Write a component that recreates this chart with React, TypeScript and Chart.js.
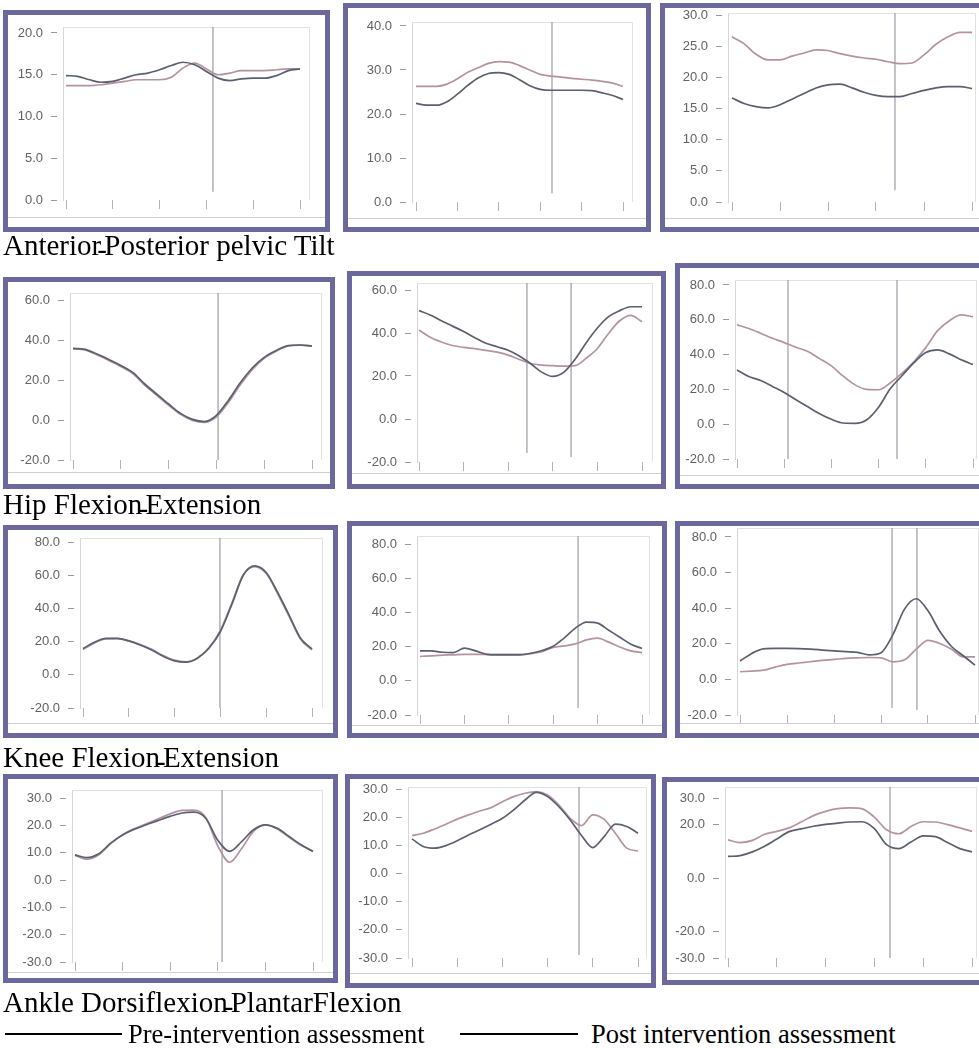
import React, { useEffect, useRef } from "react";
import { Chart, registerables } from "chart.js";

Chart.register(...registerables);

// ---------- data (% gait cycle on x, degrees on y) ----------
const GAIT_PCT = [0, 5, 10, 15, 20, 25, 30, 35, 40, 45, 50, 55, 60, 65, 70, 75, 80, 85, 90, 95, 100];
const X_TICKS = [0, 20, 40, 60, 80, 100];

// Anterior-Posterior pelvic tilt
const PELVIS_1_Y_TICKS = [0, 5, 10, 15, 20];
const PELVIS_1_PRE = [14.9, 14.8, 14.4, 14.1, 14.2, 14.6, 15.0, 15.2, 15.6, 16.1, 16.5, 16.2, 15.4, 14.6, 14.3, 14.5, 14.6, 14.6, 14.9, 15.5, 15.7];
const PELVIS_1_POST = [13.7, 13.7, 13.7, 13.8, 14.0, 14.2, 14.4, 14.4, 14.4, 14.7, 15.8, 16.4, 15.7, 15.0, 15.2, 15.5, 15.5, 15.5, 15.6, 15.7, 15.7];
const PELVIS_1_EVENTS = [{ x: 62.8, from: 1.0 }];

const PELVIS_2_Y_TICKS = [0, 10, 20, 30, 40];
const PELVIS_2_PRE = [22.4, 22.0, 22.0, 22.8, 24.5, 26.5, 28.2, 29.2, 29.4, 29.0, 27.8, 26.4, 25.6, 25.4, 25.4, 25.4, 25.4, 25.3, 24.8, 24.2, 23.3];
const PELVIS_2_POST = [26.3, 26.3, 26.3, 26.8, 28.0, 29.5, 30.5, 31.5, 31.9, 31.8, 31.0, 30.0, 29.0, 28.6, 28.4, 28.1, 27.9, 27.7, 27.4, 27.0, 26.3];
const PELVIS_2_EVENTS = [{ x: 65.7, from: 2.0 }];

const PELVIS_3_Y_TICKS = [0, 5, 10, 15, 20, 25, 30];
const PELVIS_3_PRE = [16.7, 15.8, 15.3, 15.1, 15.6, 16.5, 17.4, 18.3, 18.8, 18.9, 18.3, 17.6, 17.1, 16.9, 16.9, 17.4, 17.9, 18.3, 18.5, 18.5, 18.2];
const PELVIS_3_POST = [26.5, 25.4, 23.7, 22.8, 22.8, 23.4, 23.9, 24.4, 24.3, 23.8, 23.4, 23.1, 22.9, 22.5, 22.2, 22.3, 23.6, 25.3, 26.5, 27.2, 27.2];
const PELVIS_3_EVENTS = [{ x: 67.9, from: 1.9 }];

// Hip flexion-extension
const HIP_1_Y_TICKS = [-20, 0, 20, 40, 60];
const HIP_1_PRE = [35.8, 35.3, 33.0, 30.3, 27.3, 23.8, 18.0, 13.0, 8.0, 3.3, 0.3, -0.8, 2.3, 9.8, 18.6, 26.0, 31.3, 34.7, 37.2, 37.5, 37.0];
const HIP_1_POST = [35.5, 35.0, 32.6, 29.8, 26.8, 23.2, 17.4, 12.4, 7.4, 2.8, -0.2, -1.2, 1.6, 8.8, 17.6, 25.2, 30.8, 34.4, 37.0, 37.4, 37.0];
const HIP_1_EVENTS = [{ x: 60.7, from: -20 }];

const HIP_2_Y_TICKS = [-20, 0, 20, 40, 60];
const HIP_2_PRE = [50.4, 48.4, 45.7, 43.2, 40.7, 37.8, 35.2, 33.6, 32.0, 29.3, 25.8, 21.8, 19.8, 21.8, 27.8, 35.5, 42.3, 47.6, 50.4, 52.2, 52.2];
const HIP_2_POST = [41.4, 38.0, 35.8, 34.2, 33.3, 32.7, 31.9, 31.1, 29.7, 27.7, 25.8, 25.1, 24.8, 24.6, 24.8, 28.3, 32.8, 39.8, 45.7, 48.2, 45.2];
const HIP_2_EVENTS = [{ x: 48.4, from: -15.8 }, { x: 68.2, from: -17.7 }];

const HIP_3_Y_TICKS = [-20, 0, 20, 40, 60, 80];
const HIP_3_PRE = [31.2, 27.4, 25.1, 21.7, 18.2, 14.0, 10.0, 6.0, 2.8, 0.7, 0.5, 2.6, 9.8, 20.5, 28.0, 35.4, 41.2, 42.7, 40.4, 37.0, 34.3];
const HIP_3_POST = [57.1, 55.0, 52.3, 49.4, 46.9, 44.2, 41.8, 37.7, 33.5, 27.6, 22.6, 20.0, 19.8, 23.8, 29.3, 36.0, 44.0, 53.8, 59.5, 62.8, 61.8];
const HIP_3_EVENTS = [{ x: 21.6, from: -20 }, { x: 67.8, from: -20 }];

// Knee flexion-extension
const KNEE_Y_TICKS = [-20, 0, 20, 40, 60, 80];
const KNEE_1_PRE = [15.8, 19.6, 22.0, 22.0, 20.4, 18.0, 15.0, 11.2, 8.4, 7.6, 10.0, 16.0, 26.0, 42.4, 60.0, 65.6, 61.6, 49.6, 36.0, 22.0, 15.6];
const KNEE_1_POST = [15.2, 19.2, 21.6, 21.8, 20.4, 18.2, 15.4, 11.6, 8.8, 7.8, 10.2, 16.4, 26.8, 43.2, 60.4, 65.2, 61.0, 48.8, 35.2, 21.4, 15.0];
const KNEE_1_EVENTS = [{ x: 59.8, from: -20 }];

const KNEE_2_PRE = [17.5, 17.5, 16.7, 16.5, 19.1, 17.5, 15.5, 15.2, 15.2, 15.2, 16.1, 17.7, 20.2, 25.1, 30.8, 34.3, 33.7, 29.6, 25.5, 21.4, 18.9];
const KNEE_2_POST = [14.2, 14.6, 15.0, 15.2, 15.5, 15.5, 15.5, 15.5, 15.5, 15.4, 15.9, 17.1, 19.5, 20.4, 21.6, 23.9, 24.9, 22.6, 19.8, 17.5, 16.5];
const KNEE_2_EVENTS = [{ x: 71.2, from: -15.9 }];

const KNEE_3_PRE = [10.3, 14.6, 17.2, 17.4, 17.4, 17.3, 17.0, 16.5, 16.0, 15.6, 15.2, 13.8, 15.0, 25.0, 39.5, 45.3, 38.5, 27.0, 18.5, 13.3, 8.0];
const KNEE_3_POST = [4.3, 4.7, 5.2, 6.9, 8.4, 9.2, 9.9, 10.7, 11.2, 11.8, 12.1, 12.3, 12.1, 9.9, 11.0, 17.0, 21.9, 20.2, 17.0, 12.7, 12.7];
const KNEE_3_EVENTS = [{ x: 64.7, from: -16.1 }, { x: 75.3, from: -17.2 }];

// Ankle dorsiflexion-plantarflexion
const ANKLE_Y_TICKS = [-30, -20, -10, 0, 10, 20, 30];
const ANKLE_3_Y_TICKS = [-30, -20, 0, 20, 30];
const ANKLE_1_PRE = [9.2, 8.2, 9.6, 13.5, 16.5, 18.6, 20.2, 21.8, 23.3, 24.5, 24.8, 22.5, 14.5, 10.5, 14.0, 18.4, 20.2, 18.9, 15.9, 12.9, 10.4];
const ANKLE_1_POST = [9.0, 7.6, 9.2, 13.3, 16.6, 18.8, 20.6, 22.4, 24.2, 25.5, 25.6, 22.8, 12.5, 6.5, 11.5, 17.8, 20.2, 18.7, 15.6, 12.7, 10.5];
const ANKLE_1_EVENTS = [{ x: 61.8, from: -30 }];

const ANKLE_2_PRE = [12.3, 9.6, 9.0, 9.9, 11.6, 13.7, 15.5, 17.5, 19.6, 22.6, 26.1, 28.8, 27.3, 23.7, 19.0, 13.5, 9.2, 13.1, 17.5, 16.7, 14.3];
const ANKLE_2_POST = [13.5, 14.3, 15.8, 17.5, 19.3, 20.8, 22.2, 23.4, 25.5, 27.3, 28.5, 29.1, 27.9, 24.3, 19.6, 17.0, 20.8, 19.2, 14.3, 9.0, 8.0];
const ANKLE_2_EVENTS = [{ x: 73.9, from: -28.9 }];

const ANKLE_3_PRE = [8.1, 8.4, 9.8, 11.9, 14.6, 17.4, 18.4, 19.4, 20.1, 20.6, 21.0, 21.1, 18.5, 12.5, 11.0, 13.5, 15.8, 15.5, 13.3, 11.0, 9.8];
const ANKLE_3_POST = [14.3, 13.3, 14.1, 16.4, 17.5, 18.8, 21.0, 23.4, 25.0, 26.0, 26.3, 25.9, 22.8, 18.1, 16.6, 19.3, 21.1, 21.0, 20.0, 18.8, 17.5];
const ANKLE_3_EVENTS = [{ x: 66.4, from: -30 }];

// ---------- styling ----------
const PRE_COLOR = "#5c5f70";
const POST_COLOR = "#b4939f";
const EVENT_COLOR = "#a2a2ac";
const FRAME_COLOR = "#6a689c";
const BORDER = 5;
const Y_AXIS_W = 54;

type EventLine = { x: number; from: number };
type PanelSpec = {
  frame: number[];
  plot: { left: number; x0: number; x100: number; right: number; top: number };
  yTop: number[];
  yBottom: number[];
  bottomLine: number;
  yTicks: number[];
  pre: number[];
  post: number[];
  events: EventLine[];
};

const PANELS: PanelSpec[] = [
  { frame: [3, 10, 330, 232], plot: { left: 63, x0: 66, x100: 300, right: 310, top: 27 }, yTop: [20, 33], yBottom: [0, 200], bottomLine: 217, yTicks: PELVIS_1_Y_TICKS, pre: PELVIS_1_PRE, post: PELVIS_1_POST, events: PELVIS_1_EVENTS },
  { frame: [343, 3, 651, 232], plot: { left: 412, x0: 416, x100: 623, right: 633, top: 22 }, yTop: [40, 26], yBottom: [0, 202], bottomLine: 218, yTicks: PELVIS_2_Y_TICKS, pre: PELVIS_2_PRE, post: PELVIS_2_POST, events: PELVIS_2_EVENTS },
  { frame: [660, 3, 990, 232], plot: { left: 728, x0: 732, x100: 972, right: 976, top: 13 }, yTop: [30, 15], yBottom: [0, 202], bottomLine: 218, yTicks: PELVIS_3_Y_TICKS, pre: PELVIS_3_PRE, post: PELVIS_3_POST, events: PELVIS_3_EVENTS },

  { frame: [3, 277, 335, 489], plot: { left: 70, x0: 73, x100: 312, right: 322, top: 293 }, yTop: [60, 300], yBottom: [-20, 460], bottomLine: 472, yTicks: HIP_1_Y_TICKS, pre: HIP_1_PRE, post: HIP_1_POST, events: HIP_1_EVENTS },
  { frame: [347, 271, 666, 489], plot: { left: 417, x0: 419, x100: 642, right: 653, top: 283 }, yTop: [60, 290], yBottom: [-20, 462], bottomLine: 473, yTicks: HIP_2_Y_TICKS, pre: HIP_2_PRE, post: HIP_2_POST, events: HIP_2_EVENTS },
  { frame: [675, 263, 990, 489], plot: { left: 735, x0: 737, x100: 973, right: 977, top: 280 }, yTop: [80, 285], yBottom: [-20, 459], bottomLine: 475, yTicks: HIP_3_Y_TICKS, pre: HIP_3_PRE, post: HIP_3_POST, events: HIP_3_EVENTS },

  { frame: [3, 525, 338, 738], plot: { left: 80, x0: 83, x100: 312, right: 323, top: 538 }, yTop: [80, 542], yBottom: [-20, 708], bottomLine: 723, yTicks: KNEE_Y_TICKS, pre: KNEE_1_PRE, post: KNEE_1_POST, events: KNEE_1_EVENTS },
  { frame: [347, 521, 667, 738], plot: { left: 417, x0: 420, x100: 642, right: 650, top: 536 }, yTop: [80, 544], yBottom: [-20, 715], bottomLine: 725, yTicks: KNEE_Y_TICKS, pre: KNEE_2_PRE, post: KNEE_2_POST, events: KNEE_2_EVENTS },
  { frame: [675, 521, 990, 738], plot: { left: 737, x0: 740, x100: 975, right: 979, top: 528 }, yTop: [80, 537], yBottom: [-20, 715], bottomLine: 723, yTicks: KNEE_Y_TICKS, pre: KNEE_3_PRE, post: KNEE_3_POST, events: KNEE_3_EVENTS },

  { frame: [3, 774, 338, 983], plot: { left: 72, x0: 75, x100: 313, right: 323, top: 790 }, yTop: [30, 798], yBottom: [-30, 962], bottomLine: 972, yTicks: ANKLE_Y_TICKS, pre: ANKLE_1_PRE, post: ANKLE_1_POST, events: ANKLE_1_EVENTS },
  { frame: [345, 774, 656, 988], plot: { left: 408, x0: 412, x100: 638, right: 647, top: 787 }, yTop: [30, 789], yBottom: [-30, 958], bottomLine: 973, yTicks: ANKLE_Y_TICKS, pre: ANKLE_2_PRE, post: ANKLE_2_POST, events: ANKLE_2_EVENTS },
  { frame: [662, 777, 990, 985], plot: { left: 725, x0: 728, x100: 972, right: 977, top: 787 }, yTop: [30, 798], yBottom: [-30, 958], bottomLine: 973, yTicks: ANKLE_3_Y_TICKS, pre: ANKLE_3_PRE, post: ANKLE_3_POST, events: ANKLE_3_EVENTS },
];

const plotEdges = {
  id: "plotEdges",
  beforeDatasetsDraw(chart: any) {
    const { ctx, chartArea: a } = chart;
    ctx.save();
    ctx.strokeStyle = "#e2e2e2";
    ctx.lineWidth = 1;
    ctx.beginPath();
    ctx.moveTo(a.left, Math.round(a.top) + 0.5);
    ctx.lineTo(Math.round(a.right) - 0.5, Math.round(a.top) + 0.5);
    ctx.lineTo(Math.round(a.right) - 0.5, a.bottom);
    ctx.stroke();
    ctx.restore();
  },
};

function Panel({ spec }: { spec: PanelSpec }) {
  const ref = useRef<HTMLCanvasElement | null>(null);
  const [l, t, r, b] = spec.frame;
  const inL = l + BORDER;
  const inT = t + BORDER;
  const inR = r - BORDER;
  const inB = b - BORDER;
  const w = inR - inL;
  const h = inB - inT;

  useEffect(() => {
    const canvas = ref.current;
    if (!canvas) return;
    const p = spec.plot;
    const pxX = (p.x100 - p.x0) / 100;
    const xMin = -(p.x0 - p.left) / pxX;
    const xMax = 100 + (p.right - p.x100) / pxX;
    const [tv, tp] = spec.yTop;
    const [bv, bp] = spec.yBottom;
    const pxY = (bp - tp) / (tv - bv);
    const yMin = bv;
    const yMax = tv + (tp - p.top) / pxY;
    const padLeft = Math.max(0, p.left - inL - Y_AXIS_W);
    const axisW = p.left - inL - padLeft;
    const padTop = p.top - inT;
    const padRight = Math.max(0, inR - p.right);
    const xAxisH = inB - bp;

    const datasets: any[] = [
      {
        label: "Pre-intervention assessment",
        data: GAIT_PCT.map((x, i) => ({ x, y: spec.pre[i] })),
        borderColor: PRE_COLOR,
        borderWidth: 1.7,
        pointRadius: 0,
        cubicInterpolationMode: "monotone",
      },
      {
        label: "Post intervention assessment",
        data: GAIT_PCT.map((x, i) => ({ x, y: spec.post[i] })),
        borderColor: POST_COLOR,
        borderWidth: 1.7,
        pointRadius: 0,
        cubicInterpolationMode: "monotone",
      },
      ...spec.events.map((ev) => ({
        label: "event",
        data: [
          { x: ev.x, y: ev.from },
          { x: ev.x, y: yMax },
        ],
        borderColor: EVENT_COLOR,
        borderWidth: 1.3,
        pointRadius: 0,
        tension: 0,
      })),
    ];

    const chart = new Chart(canvas, {
      type: "line",
      data: { datasets },
      options: {
        responsive: false,
        animation: false,
        devicePixelRatio: 1,
        layout: { padding: { left: padLeft, top: padTop, right: padRight, bottom: 0 } },
        plugins: { legend: { display: false }, tooltip: { enabled: false } },
        scales: {
          x: {
            type: "linear",
            min: xMin,
            max: xMax,
            afterBuildTicks: (s: any) => {
              s.ticks = X_TICKS.map((v) => ({ value: v }));
            },
            afterFit: (s: any) => {
              s.height = xAxisH;
              s.paddingLeft = 0;
              s.paddingRight = 0;
            },
            ticks: { display: false },
            grid: { drawOnChartArea: false, drawTicks: true, tickLength: 9, tickColor: "#b4b4b4", tickWidth: 1 },
            border: { display: false },
          },
          y: {
            type: "linear",
            min: yMin,
            max: yMax,
            afterBuildTicks: (s: any) => {
              s.ticks = spec.yTicks.map((v) => ({ value: v }));
            },
            afterFit: (s: any) => {
              s.width = axisW;
              s.paddingTop = 0;
              s.paddingBottom = 0;
            },
            ticks: {
              callback: (v: any) => Number(v).toFixed(1),
              color: "#626262",
              font: { family: "'Liberation Sans', Arial, sans-serif", size: 13 },
              padding: 8,
              autoSkip: false,
            },
            grid: { drawOnChartArea: false, drawTicks: true, tickLength: 12, tickColor: "#9a9a9a", tickBorderDash: [6, 20] },
            border: { display: true, color: "#d6d6d6" },
          },
        },
      } as any,
      plugins: [plotEdges],
    });
    return () => chart.destroy();
  }, [spec]);

  return (
    <>
      <div
        style={{
          position: "absolute",
          left: l,
          top: t,
          width: r - l,
          height: b - t,
          boxSizing: "border-box",
          border: `${BORDER}px solid ${FRAME_COLOR}`,
          background: "#fff",
        }}
      >
        <canvas ref={ref} width={w} height={h} style={{ display: "block", width: w, height: h }} />
      </div>
      <div style={{ position: "absolute", left: inL, top: spec.bottomLine, width: w, height: 1, background: "#cfcfcf" }} />
    </>
  );
}

function Hy() {
  return <span style={{ display: "inline-block", width: 3, position: "relative", left: -4, top: 4 }}>-</span>;
}

const labelStyle: React.CSSProperties = {
  position: "absolute",
  left: 3,
  fontSize: 29,
  lineHeight: "29px",
  whiteSpace: "nowrap",
  color: "#000",
};

const legendText: React.CSSProperties = {
  position: "absolute",
  top: 1021,
  fontSize: 26.5,
  lineHeight: "26.5px",
  whiteSpace: "nowrap",
  color: "#000",
};

export default function App() {
  return (
    <div
      style={{
        position: "absolute",
        left: 0,
        top: 0,
        width: 979,
        height: 1048,
        overflow: "hidden",
        background: "#fff",
        fontFamily: "'Liberation Serif', 'Times New Roman', serif",
      }}
    >
      {PANELS.map((s, i) => (
        <Panel key={i} spec={s} />
      ))}
      <div style={{ ...labelStyle, top: 231 }}>
        Anterior<Hy />Posterior pelvic Tilt
      </div>
      <div style={{ ...labelStyle, top: 490 }}>
        Hip Flexion<Hy />Extension
      </div>
      <div style={{ ...labelStyle, top: 743 }}>
        Knee Flexion<Hy />Extension
      </div>
      <div style={{ ...labelStyle, top: 988 }}>
        Ankle Dorsiflexion<Hy />PlantarFlexion
      </div>
      <div style={{ position: "absolute", left: 5, top: 1033, width: 117, height: 1.5, background: "#000" }} />
      <div style={{ ...legendText, left: 128 }}>Pre-intervention assessment</div>
      <div style={{ position: "absolute", left: 460, top: 1033, width: 118, height: 1.5, background: "#000" }} />
      <div style={{ ...legendText, left: 591 }}>Post intervention assessment</div>
    </div>
  );
}
